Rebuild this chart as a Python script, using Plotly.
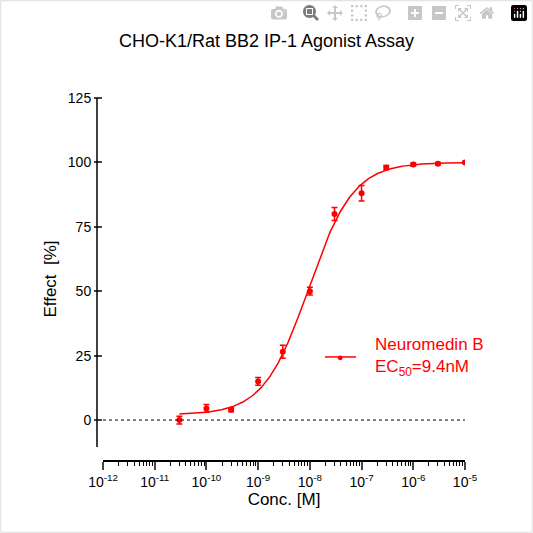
import numpy as np
import plotly.graph_objects as go

conc = [3e-11, 1e-10, 3e-10, 1e-9, 3e-9, 1e-8, 3e-8, 1e-7, 3e-7, 1e-6, 3e-6, 1e-5]
effect = [0, 4.5, 4, 15, 26.5, 50, 80, 88, 98, 99.2, 99.5, 100]
err = [1.5, 1.5, 0.8, 1.5, 2.5, 1.5, 2.5, 3, 0.8, 0.6, 0.5, 0.4]
ec50 = 9.4e-9
bottom, top, hill = 2.0, 100.0, 1.0
tickvals = [1e-12, 1e-11, 1e-10, 1e-9, 1e-8, 1e-7, 1e-6, 1e-5]
ticktext = ["10<sup>-12</sup>", "10<sup>-11</sup>", "10<sup>-10</sup>", "10<sup>-9</sup>",
            "10<sup>-8</sup>", "10<sup>-7</sup>", "10<sup>-6</sup>", "10<sup>-5</sup>"]

red = "#ff0000"
xc = np.logspace(np.log10(3e-11), -5, 300)
yc = bottom + (top - bottom) / (1 + (ec50 / xc) ** hill)

fig = go.Figure()
fig.add_trace(go.Scatter(x=xc, y=yc, mode="lines", line=dict(color=red, width=1.5), showlegend=False))
fig.add_trace(go.Scatter(x=conc, y=effect, mode="markers", marker=dict(color=red, size=6),
                         error_y=dict(type="data", array=err, color=red, thickness=1.5, width=3),
                         showlegend=False))

W, H = 533, 533
l, r, t, b = 103, 68, 98, 73
pw = W - l - r
fig.update_layout(
    width=W, height=H, margin=dict(l=l, r=r, t=t, b=b),
    paper_bgcolor="white", plot_bgcolor="white",
    font=dict(family="Liberation Sans, Arial", color="black", size=14),
    title=dict(text="CHO-K1/Rat BB2 IP-1 Agonist Assay", x=0.5, xanchor="center", y=0.935, font=dict(size=18)),
    xaxis=dict(type="log", range=[-12, -5], tickvals=tickvals, ticktext=ticktext, ticks="outside",
               ticklen=8, tickwidth=1.5, showline=True, linecolor="black", linewidth=1.5, showgrid=False,
               zeroline=False, title=dict(text="Conc. [M]", standoff=4),
               minor=dict(tickvals=[m * 10.0 ** e for e in range(-12, -5) for m in range(2, 10)],
                          ticks="outside", ticklen=4, tickcolor="black", tickwidth=1)),
    yaxis=dict(range=[-15.5, 125], tickvals=[0, 25, 50, 75, 100, 125], ticks="outside", ticklen=8,
               tickwidth=1.5, showline=False, showgrid=False, zeroline=False,
               title=dict(text="Effect  [%]", standoff=6)),
)
xp = (97 - l) / pw
fig.add_shape(type="line", xref="paper", yref="y", x0=xp, x1=xp, y0=-10.5, y1=125,
              line=dict(color="black", width=1.5))
fig.add_shape(type="line", xref="paper", yref="y", x0=0, x1=1, y0=0, y1=0,
              line=dict(color="black", width=1, dash="dot"))
lx0, lx1 = (325 - l) / pw, (356 - l) / pw
fig.add_shape(type="line", xref="paper", yref="y", x0=lx0, x1=lx1, y0=24.5, y1=24.5,
              line=dict(color=red, width=1.5))
fig.add_annotation(xref="paper", yref="y", x=(lx0 + lx1) / 2, y=24.5, text="●", showarrow=False,
                   font=dict(color=red, size=11))
fig.add_annotation(xref="paper", yref="y", x=(373 - l) / pw, y=24.5, xanchor="left", align="left",
                   text="Neuromedin B<br>EC<sub>50</sub>=9.4nM", showarrow=False,
                   font=dict(color=red, size=17))
fig.add_shape(type="rect", xref="paper", yref="paper", x0=-l / pw + 0.002, x1=1 + r / pw - 0.002,
              y0=-b / (H - t - b) + 0.002, y1=1 + t / (H - t - b) - 0.002,
              line=dict(color="#dddddd", width=1))
fig.write_html("out.html")
with open("out.html", encoding="utf-8") as f:
    html = f.read()
html = html.replace("<head>", "<head><style>html,body{margin:0;padding:0;overflow:hidden}</style>", 1)
with open("out.html", "w", encoding="utf-8") as f:
    f.write(html)
